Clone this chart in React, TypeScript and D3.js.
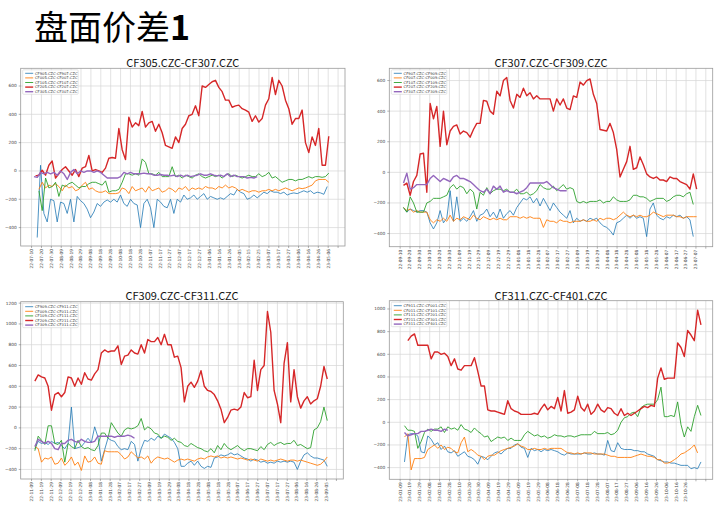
import * as d3 from "d3";

// ---- panel meta ----
const pageTitle = "盘面价差";
const panelTitles = ["CF305.CZC-CF307.CZC", "CF307.CZC-CF309.CZC", "CF309.CZC-CF311.CZC", "CF311.CZC-CF401.CZC"];
const legendNames = [
  ["CF905.CZC-CF907.CZC", "CF005.CZC-CF007.CZC", "CF105.CZC-CF107.CZC", "CF205.CZC-CF207.CZC", "CF305.CZC-CF307.CZC"],
  ["CF907.CZC-CF909.CZC", "CF007.CZC-CF009.CZC", "CF107.CZC-CF109.CZC", "CF207.CZC-CF209.CZC", "CF307.CZC-CF309.CZC"],
  ["CF909.CZC-CF911.CZC", "CF009.CZC-CF011.CZC", "CF109.CZC-CF111.CZC", "CF209.CZC-CF211.CZC", "CF309.CZC-CF311.CZC"],
  ["CF911.CZC-CF001.CZC", "CF011.CZC-CF101.CZC", "CF111.CZC-CF201.CZC", "CF211.CZC-CF301.CZC", "CF311.CZC-CF401.CZC"],
];
// first tick date of each panel, ticks every 10 days
const tickStarts = ["2022-07-10", "2022-09-10", "2022-11-09", "2023-01-09"];
const lastLabel = [300, 300, 300, 290];
const yDomains = [[-530, 725], [-486, 680], [-492, 1214], [-503, 1073]];
const xDomain = [-11, 317];

// ---- CF305-CF307 ----
const p1Blue = [-470,40,-300,-360,-200,-210,-360,-220,-230,-300, -200,-360,-180,-210,-230,-270,-330,-290,-230,-250, -220,-205,-220,-200,-220,-170,-230,-250,-200,-230, -240,-400,-230,-200,-260,-400,-200,-220,-250,-260, -200,-300,-200,-220,-170,-200,-190,-170,-200,-180, -160,-200,-180,-190,-200,-190,-200,-180,-160,-170, -130,-150,-160,-200,-190,-170,-190,-170,-150,-160, -140,-150,-150,-160,-150,-170,-160,-155,-160,-150, -140,-150,-140,-160,-150,-155,-165,-110];
const p1Orange = [-130,-80,-120,-100,-110,-90,-110,-140,-100,-120, -110,-140,-130,-100,-80,-130,-120,-140,-150,-150, -140,-160,-160,-160,-155,-120,-130,-160,-110,-140, -130,-120,-150,-110,-140,-130,-120,-150,-140,-120, -130,-150,-120,-130,-110,-140,-120,-130,-120,-130, -110,-120,-120,-130,-110,-120,-100,-120,-110,-120, -140,-130,-140,-150,-140,-140,-150,-140,-140,-130, -140,-130,-140,-130,-120,-130,-140,-130,-120,-125, -120,-110,-100,-70,-60,-60,-60,-80];
const p1Green = [-140,-280,-50,-120,-110,-80,-180,-100,-110,-90, -80,-100,-120,-110,-110,-90,-80,-80,-90,-100, -70,-150,-140,-140,-130,-80,-20,-20,-30,-20, -30,85,60,-20,-20,-30,-10,-40,-40,-40, 30,-40,-30,-50,-30,-40,-50,-30,-20,-40, -50,-40,-30,-40,-30,-50,-30,-20,-40,-30, -40,-50,-40,-30,-40,-40,-20,-40,-30,-10, -50,-40,-60,-80,-70,-60,-60,-70,-60,-60, -50,-40,-50,-40,-40,-45,-40,-15];
const p1Red = [-35,-30,5,-30,40,70,-50,-20,10,30, 0,-30,10,-40,20,30,110,0,10,0, -10,20,90,95,90,300,150,80,380,310, 340,320,420,310,340,350,280,330,270,180, 170,160,240,200,300,330,390,400,460,390, 600,590,610,630,640,590,560,500,500,450, 460,465,440,430,415,350,390,345,370,465, 510,660,540,640,600,500,440,330,370,370, 430,200,130,240,180,300,40,40,245];
const p1Purple = [-40,-45,-10,-20,-10,-20,-10,-30,0,-20, -60,-10,10,-20,0,-10,0,0,-10,0, -10,-30,-50,-50,-50,-50,-40,-10,-20,-10, -20,-20,-20,-15,-20,-20,-30,-30,-25,-30, -30,-35,-30,-40,-30,-40,-30,-40,-35,-30, -20,-30,-30,-20,-30,-35,-30,-40,-20,-40, -30,-40,-40,-40,-50,-45,-50,-40];
const p1Spans = [[5.7, 299], [7.4, 300.6], [7.4, 300.6], [4, 300.6], [2.4, 228.2]];

// ---- CF307-CF309 ----
const p2Blue = [-230,-260,-240,-250,-260,-250,-250,-260,-330,-370, -330,-250,-330,-300,-120,-320,-160,-320,-300,-320, -290,-250,-320,-280,-270,-240,-290,-260,-300,-240, -300,-270,-250,-280,-230,-200,-170,-180,-160,-200, -170,-220,-170,-210,-250,-200,-230,-260,-280,-300, -250,-330,-300,-320,-310,-320,-300,-310,-300,-330, -350,-360,-380,-410,-330,-320,-300,-280,-300,-280, -300,-290,-300,-420,-240,-200,-280,-300,-310,-290, -300,-280,-290,-280,-300,-290,-310,-420];
const p2Orange = [-230,-250,-240,-260,-250,-260,-260,-260,-310,-330, -310,-320,-300,-320,-280,-320,-300,-310,-290,-300, -310,-280,-300,-310,-290,-300,-310,-300,-310,-300, -310,-310,-290,-290,-290,-300,-290,-300,-290,-300, -300,-300,-360,-310,-320,-320,-330,-310,-320,-320, -330,-320,-320,-320,-310,-320,-320,-310,-320,-300, -310,-300,-300,-310,-300,-280,-260,-280,-290,-280, -290,-280,-290,-290,-280,-260,-270,-280,-290,-280, -280,-280,-290,-290,-300,-290,-290,-290,-290];
const p2Green = [-230,-260,-160,-200,-260,-260,-260,-200,-190,-170, -170,-170,-160,-150,-100,-80,-110,-90,-100,-140, -110,-130,-240,-130,-150,-100,-140,-120,-110,-110, -120,-110,-130,-130,-110,-140,-140,-130,-150,-140, -120,-80,-100,-110,-110,-90,-120,-100,-80,-110, -100,-110,-190,-200,-190,-200,-190,-190,-190,-180, -200,-190,-190,-160,-180,-190,-190,-190,-180,-150, -150,-160,-160,-170,-190,-180,-170,-170,-170,-190, -180,-160,-150,-150,-160,-140,-130,-210];
const p2Red = [-85,-70,-150,-60,-20,120,125,-130,450,350, 430,170,400,180,270,300,310,250,270,260, 230,280,320,320,470,465,400,380,530,500, 600,620,470,420,510,490,550,500,520,480, 500,480,480,480,480,400,480,440,480,420, 410,500,490,590,570,600,610,510,450,280, 275,270,320,260,150,-30,20,70,170,20, 30,100,50,-10,-30,-40,-30,-50,-50,-60, -30,-40,-40,-60,-70,-80,-110,-10,-110];
const p2Purple = [-70,-5,-110,-100,-80,-80,-80,-80,-40,-20, -40,-60,-40,-50,-60,-30,-20,-40,-40,-50, -60,-80,-100,-120,-130,-110,-140,-90,-110,-90, -130,-120,-130,-130,-140,-130,-120,-100,-70,-70, -70,-70,-70,-60,-80,-100,-110,-120,-120,-120];
const p2Spans = [[3.4, 297.3], [3.4, 300.7], [3.4, 297.3], [3.4, 300.7], [3.4, 168.9]];

// ---- CF309-CF311 ----
const p3Blue = [-200,-130,-150,-140,-160,-130,-150,-140,-170,-200, -150,200,-200,-190,-180,-140,-100,-140,10,-90, -320,-210,-100,-120,-130,-180,-210,-200,-210,-130, -160,-320,-200,-120,-130,-100,-120,-80,-100,-60, -80,-100,-140,-200,-370,-370,-340,-320,-360,-320, -370,-390,-370,-380,-290,-280,-260,-270,-260,-240, -260,-250,-270,-290,-300,-320,-300,-310,-330,-320, -340,-330,-340,-320,-330,-320,-330,-320,-330,-400, -320,-260,-240,-270,-290,-290,-300,-310,-370];
const p3Orange = [-180,-200,-330,-290,-300,-280,-350,-340,-290,-360, -330,-280,-360,-330,-410,-270,-330,-320,-280,-340, -350,-220,-230,-230,-230,-230,-260,-300,-280,-230, -260,-290,-280,-300,-270,-340,-300,-280,-290,-300, -290,-310,-330,-310,-300,-310,-300,-310,-320,-300, -290,-300,-280,-270,-280,-270,-290,-280,-290,-280, -290,-300,-290,-300,-310,-300,-310,-320,-300,-310, -320,-310,-320,-310,-300,-310,-320,-310,-310,-320, -310,-320,-330,-340,-350,-360,-350,-320,-280];
const p3Green = [-220,-80,-120,-160,20,20,-150,-160,-120,-330, -150,-180,-200,-120,-180,-200,-190,-210,-220,-170, -50,-50,-100,50,0,-50,-80,-20,0,-10, 0,20,90,-20,10,-10,-50,-60,-100,-80, -90,-120,-100,-130,-140,-170,-180,-150,-170,-190, -200,-220,-230,-200,-240,-170,-210,-150,-190,-210, -190,-170,-200,-220,-200,-200,-210,-220,-180,-210, -160,-140,-170,-150,-140,-160,-150,-150,-120,-170, -160,-180,-200,-190,-20,0,60,200,70];
const p3Red = [450,510,490,480,400,170,320,340,300,340, 490,480,400,480,420,530,470,460,520,560, 720,750,730,740,740,790,610,690,700,750, 720,710,800,720,850,830,830,870,800,900, 800,800,680,690,580,250,400,440,390,450, 550,400,360,350,320,260,180,50,100,170, 180,170,200,340,290,300,650,360,560,600, 1120,920,360,230,50,620,820,250,560,300, 190,260,300,230,260,280,400,590,470];
const p3Purple = [-180,-110,-130,-150,-130,-150,-200,-210,-150,-150, -120,-110,-130,-140,-110,-130,-140,-140,-130,-80, -80,-80,-80,-80,-90,-80,-80,-80,-70,-80, -100];
const p3Spans = [[3.4, 300.7], [3.4, 300.7], [3.4, 300.7], [3.4, 300.7], [3.4, 104.7]];

// ---- CF311-CF401 ----
const p4Blue = [-350,-110,-100,-100,-120,-260,-270,-120,-150,-200, -180,-240,-210,-260,-270,-250,-300,-280,-260,-300, -310,-330,-370,-300,-310,-330,-300,-270,-260,-280, -250,-230,-230,-200,-190,-220,-230,-310,-230,-250, -240,-260,-240,-250,-240,-250,-260,-280,-290,-270, -280,-280,-280,-280,-270,-280,-280,-270,-280,-280, -290,-160,-250,-260,-180,-230,-240,-240,-240,-250, -250,-260,-260,-280,-290,-300,-330,-340,-350,-350, -360,-360,-370,-380,-380,-380,-410,-400,-410,-350];
const p4Orange = [-130,-100,-420,-320,-320,-320,-310,-240,-220,-200, -230,-200,-240,-220,-230,-260,-270,-180,-130,-260, -240,-260,-290,-300,-330,-300,-290,-290,-270,-250, -240,-230,-220,-210,-190,-210,-220,-240,-240,-230, -240,-240,-230,-240,-230,-230,-230,-230,-250,-270, -270,-280,-270,-280,-270,-270,-270,-280,-280,-280, -280,-290,-300,-300,-310,-310,-310,-310,-310,-300, -290,-280,-290,-300,-300,-310,-330,-330,-360,-360, -350,-330,-310,-280,-270,-250,-230,-200,-270];
const p4Green = [-30,-70,-70,-80,-230,-170,-90,-60,-80,-60, -60,-40,-90,-40,-60,-50,-70,-20,-60,-70, -90,-50,-80,-100,-130,-120,-170,-150,-130,-140, -130,-160,-140,-160,-160,-160,-110,-80,-100,-120, -110,-130,-120,-140,-130,-110,-120,-120,-130,-120, -120,-130,-120,-110,-110,-110,-110,-80,-100,-100, -100,-90,-110,-100,-70,0,40,50,80,90, 50,130,150,160,160,160,200,310,50,50, 60,50,180,-20,-130,-40,-80,50,150,60];
const p4Red = [720,760,780,680,680,680,680,560,620,620, 600,610,580,500,560,470,460,500,500,500, 570,450,320,320,110,100,100,90,80,70, 190,120,100,90,70,70,70,70,80,70, 120,160,110,140,120,220,100,280,80,90, 110,230,130,100,160,70,100,160,110,90, 130,120,80,60,120,60,80,60,80,100, 120,140,130,150,140,390,480,380,390,390, 390,700,660,580,810,770,720,990,860];
const p4Purple = [-90,-120,-110,-100,-100,-80,-80,-70,-60,-70,-70,-80,-60,-70];
const p4Spans = [[4.4, 305.1], [4.4, 301.7], [4.4, 305.1], [7.8, 305.1], [4.4, 48.3]];

const colors = ["#1f77b4", "#ff7f0e", "#2ca02c", "#d62728", "#9467bd"];
const widths = [0.8, 0.9, 0.9, 1.4, 1.4];

const panelSeries = [
  [p1Blue, p1Orange, p1Green, p1Red, p1Purple],
  [p2Blue, p2Orange, p2Green, p2Red, p2Purple],
  [p3Blue, p3Orange, p3Green, p3Red, p3Purple],
  [p4Blue, p4Orange, p4Green, p4Red, p4Purple],
];
const panelSpans = [p1Spans, p2Spans, p3Spans, p4Spans];

// plot frames [left, top, right, bottom]
const boxes = [
  [20.7, 68.3, 345, 246],
  [389.3, 68.3, 712.7, 246.7],
  [20.7, 301.7, 343.3, 479],
  [389.3, 300.7, 712.7, 479.3],
];
const titleY = [66.5, 67, 300, 300];

const parse = d3.timeParse("%Y-%m-%d");
const fmtDate = d3.timeFormat("%y-%m-%d");
const fmtY = d3.format("d");
const tickFont = "DejaVu Sans";

function Panel({ idx }: { idx: number }) {
  const [x0, y0, x1, y1] = boxes[idx];
  const x = d3.scaleLinear().domain(xDomain).range([x0, x1]);
  const y = d3.scaleLinear().domain(yDomains[idx]).range([y1, y0]);
  const start = parse(tickStarts[idx]) as Date;
  const xTicks = d3.range(0, xDomain[1], 10);
  const yTicks = d3.range(Math.ceil(yDomains[idx][0] / 200) * 200, yDomains[idx][1], 200);
  const clipId = `clip${idx}`;

  const lines = panelSeries[idx].map((vals, s) => {
    const [a, b] = panelSpans[idx][s];
    const step = (b - a) / (vals.length - 1);
    const gen = d3
      .line<number>()
      .x((_, i) => x(a + i * step))
      .y((d) => y(d));
    return gen(vals) as string;
  });

  const lx = x0 + 2;
  const ly = y0 + 1.5;
  return (
    <g>
      <defs>
        <clipPath id={clipId}>
          <rect x={x0} y={y0} width={x1 - x0} height={y1 - y0} />
        </clipPath>
      </defs>
      <text x={(x0 + x1) / 2} y={titleY[idx]} textAnchor="middle" fontSize={11} fontFamily="Noto Sans CJK SC" fill="#111">
        {panelTitles[idx]}
      </text>
      {/* grid */}
      {xTicks.map((t) => (
        <line key={"gx" + t} x1={x(t)} x2={x(t)} y1={y0} y2={y1} stroke="#d6d6d6" strokeWidth={0.7} />
      ))}
      {yTicks.map((t) => (
        <line key={"gy" + t} x1={x0} x2={x1} y1={y(t)} y2={y(t)} stroke="#d6d6d6" strokeWidth={0.7} />
      ))}
      {/* series */}
      <g clipPath={`url(#${clipId})`}>
        {lines.map((d, s) => (
          <path key={s} d={d} fill="none" stroke={colors[s]} strokeWidth={widths[s]} strokeLinejoin="round" />
        ))}
      </g>
      <rect x={x0} y={y0} width={x1 - x0} height={y1 - y0} fill="none" stroke="#9a9a9a" strokeWidth={0.8} />
      {/* x axis */}
      {xTicks.map((t) => (
        <g key={"xt" + t}>
          <line x1={x(t)} x2={x(t)} y1={y1} y2={y1 + 2} stroke="#666" strokeWidth={0.5} />
          {t <= lastLabel[idx] && (
            <text
              transform={`translate(${x(t) + 1.4},${y1 + 3}) rotate(-90)`}
              textAnchor="end"
              fontSize={4.3}
              fontFamily={tickFont}
              fill="#444"
            >
              {fmtDate(d3.timeDay.offset(start, t))}
            </text>
          )}
        </g>
      ))}
      {/* y axis */}
      {yTicks.map((t) => (
        <g key={"yt" + t}>
          <line x1={x0 - 2} x2={x0} y1={y(t)} y2={y(t)} stroke="#666" strokeWidth={0.5} />
          <text x={x0 - 4} y={y(t) + 1.5} textAnchor="end" fontSize={4.3} fontFamily={tickFont} fill="#444">
            {fmtY(t)}
          </text>
        </g>
      ))}
      {/* legend */}
      <rect x={lx} y={ly} width={55.5} height={24.5} fill="white" fillOpacity={0.85} stroke="#cccccc" strokeWidth={0.5} rx={1} />
      {legendNames[idx].map((name, s) => (
        <g key={name}>
          <line
            x1={lx + 2.5}
            x2={lx + 10.5}
            y1={ly + 3.5 + s * 4.6}
            y2={ly + 3.5 + s * 4.6}
            stroke={colors[s]}
            strokeWidth={widths[s]}
          />
          <text x={lx + 12.3} y={ly + 4.8 + s * 4.6} fontSize={3.7} fontFamily={tickFont} fill="#333">
            {name}
          </text>
        </g>
      ))}
    </g>
  );
}

export default function App() {
  return (
    <svg
      width={723}
      height={509}
      viewBox="0 0 723 509"
      style={{ position: "absolute", left: 0, top: 0, background: "white" }}
    >
      <rect width={723} height={509} fill="white" />
      <text x={34} y={40} fontSize={34} fontFamily="Noto Sans CJK SC" fill="#000">
        {pageTitle}
        <tspan fontWeight="bold">1</tspan>
      </text>
      {[0, 1, 2, 3].map((i) => (
        <Panel key={i} idx={i} />
      ))}
    </svg>
  );
}
